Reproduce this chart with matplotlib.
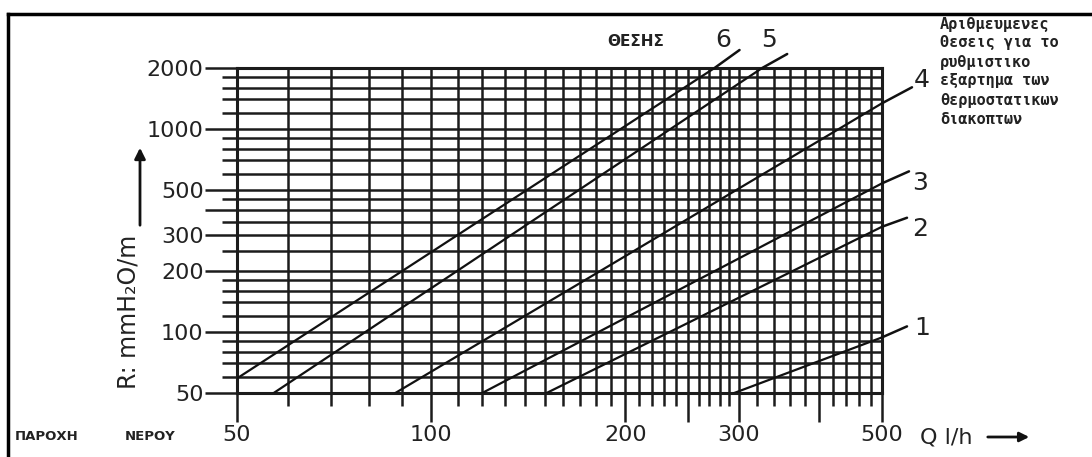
import matplotlib
matplotlib.use("Agg")
import matplotlib.pyplot as plt
from matplotlib.ticker import FixedLocator, FixedFormatter, NullFormatter
from matplotlib.lines import Line2D

# flow Q (l/h) vs pressure drop R (mmH2O/m), one straight line per valve position
positions = ["1", "2", "3", "4", "5", "6"]
q_start = [295, 151, 120, 88, 57, 50]
r_start = [50, 50, 50, 50, 50, 59]
q_end = [500, 500, 500, 500, 326, 275]
r_end = [94, 330, 540, 1340, 2000, 2000]

x_major = [50, 100, 200, 250, 300, 400, 500]
x_major_labels = ["50", "100", "200", "", "300", "", "500"]
x_minor = [60, 70, 80, 90, 110, 120, 130, 140, 150, 160, 170, 180, 190,
           210, 220, 230, 240, 260, 270, 280, 290,
           320, 340, 360, 380, 420, 440, 460, 480]
y_major = [50, 100, 200, 300, 400, 500, 1000, 2000]
y_major_labels = ["50", "100", "200", "300", "", "500", "1000", "2000"]
y_minor = [60, 70, 80, 90, 120, 140, 160, 180, 250, 350, 450,
           600, 700, 800, 900, 1200, 1400, 1600, 1800]

side_note = ["Αριθμευμενες", "Θεσεις για το", "ρυθμιστικο",
             "εξαρτημα των", "θερμοστατικων", "διακοπτων"]

# label offsets (pixels) from where each line leaves the grid: leader end, number position
leader_off = [(25, 11), (25, 9), (27, 12), (30, 16), (25, 14), (25, 18)]
text_off = [(40, 9), (38, -2), (38, 0), (40, 23), (7, 28), (9, 28)]

W, H = 1092, 457
fig = plt.figure(figsize=(W / 100, H / 100), dpi=100)
fig.patch.set_facecolor("white")
ax = fig.add_axes([237 / W, 1 - 393 / H, 645 / W, 325 / H])
ax.set_xscale("log"); ax.set_yscale("log")
ax.set_xlim(50, 500); ax.set_ylim(50, 2000)

ax.xaxis.set_major_locator(FixedLocator(x_major))
ax.xaxis.set_major_formatter(FixedFormatter(x_major_labels))
ax.xaxis.set_minor_locator(FixedLocator(x_minor))
ax.xaxis.set_minor_formatter(NullFormatter())
ax.yaxis.set_major_locator(FixedLocator(y_major))
ax.yaxis.set_major_formatter(FixedFormatter(y_major_labels))
ax.yaxis.set_minor_locator(FixedLocator(y_minor))
ax.yaxis.set_minor_formatter(NullFormatter())

gc = "#1c1c1c"
ax.grid(which="both", color=gc, lw=1.8)
ax.set_axisbelow(True)
ax.tick_params(axis="y", which="major", length=23, width=1.8, pad=1, labelsize=16, color=gc, labelcolor="#222")
ax.tick_params(axis="y", which="minor", length=11, width=1.8, color=gc)
ax.tick_params(axis="x", which="major", length=21, width=1.8, pad=2, labelsize=16, color=gc, labelcolor="#222")
ax.tick_params(axis="x", which="minor", length=9, width=1.8, color=gc)
for s in ax.spines.values():
    s.set_linewidth(2.2); s.set_color(gc)

for i, p in enumerate(positions):
    ax.plot([q_start[i], q_end[i]], [r_start[i], r_end[i]], color="#111", lw=1.6, zorder=3)
    ax.annotate("", xy=(q_end[i], r_end[i]), xytext=leader_off[i], textcoords="offset pixels",
                arrowprops=dict(arrowstyle="-", color="#111", lw=1.8, shrinkA=0, shrinkB=0),
                annotation_clip=False)
    ax.annotate(p, xy=(q_end[i], r_end[i]), xytext=text_off[i], textcoords="offset pixels",
                ha="center", va="center", fontsize=18, color="#222", annotation_clip=False)

# y axis label with arrow
fig.text(128 / W, 1 - 312 / H, "R: mmH₂O/m", rotation=90, ha="center", va="center",
         fontsize=17, color="#222")
ax.annotate("", xy=(140, H - 145), xytext=(140, H - 228), xycoords="figure pixels",
            arrowprops=dict(arrowstyle="-|>", color="#111", lw=2, mutation_scale=16))

# x axis label with arrow
fig.text(920 / W, 1 - 437 / H, "Q l/h", ha="left", va="center", fontsize=16, color="#222")
ax.annotate("", xy=(1032, H - 437), xytext=(985, H - 437), xycoords="figure pixels",
            arrowprops=dict(arrowstyle="-|>", color="#111", lw=2, mutation_scale=14))

fig.text(15 / W, 1 - 437 / H, "ΠΑΡΟΧΗ", ha="left", va="center", fontsize=9.5,
         fontweight="bold", color="#222")
fig.text(125 / W, 1 - 437 / H, "ΝΕΡΟΥ", ha="left", va="center", fontsize=9.5,
         fontweight="bold", color="#222")
fig.text(636 / W, 1 - 42 / H, "ΘΕΣΗΣ", ha="center", va="center", fontsize=11,
         fontweight="bold", color="#222")

for k, line in enumerate(side_note):
    fig.text(940 / W, 1 - (24 + 19 * k) / H, line, ha="left", va="center",
             fontsize=11, fontweight="bold", family="DejaVu Sans Mono", color="#222")

# outer frame of the scanned page
fig.add_artist(Line2D([8 / W, 8 / W], [0, 1 - 14 / H], color="k", lw=2.5))
fig.add_artist(Line2D([8 / W, 1], [1 - 14 / H, 1 - 14 / H], color="k", lw=2.5))

fig.savefig("out.png", dpi=100, facecolor="white")
